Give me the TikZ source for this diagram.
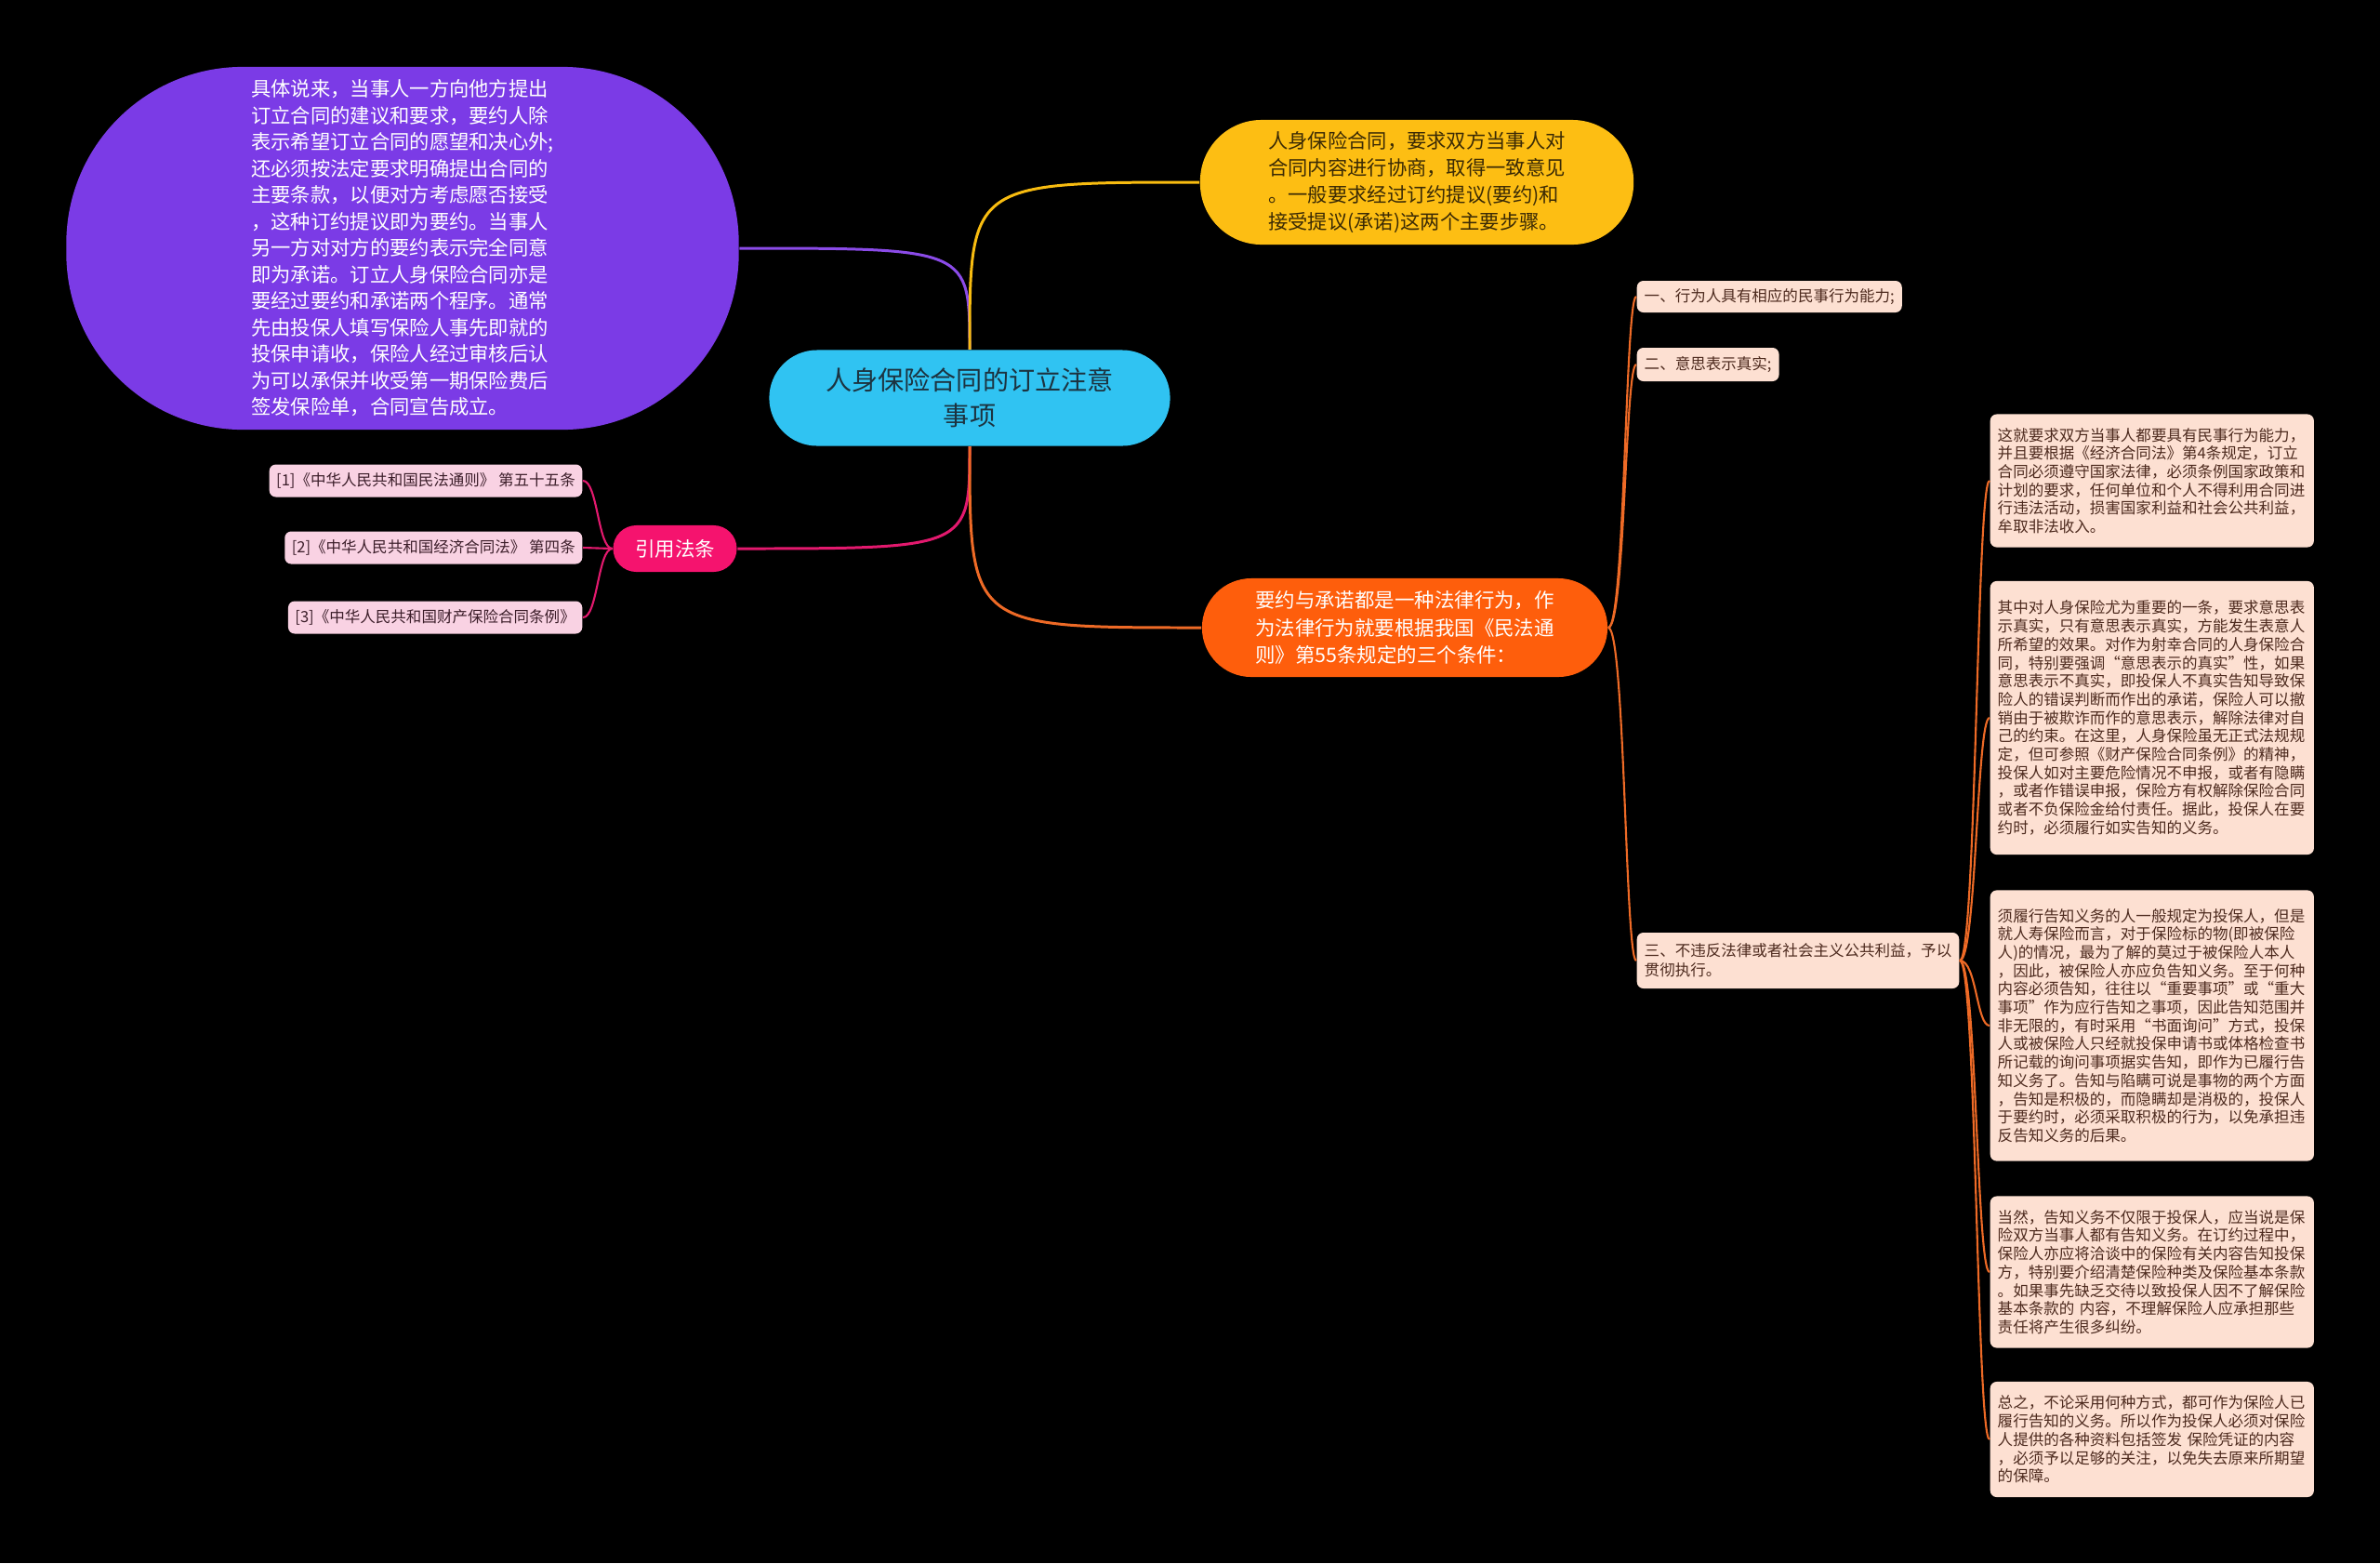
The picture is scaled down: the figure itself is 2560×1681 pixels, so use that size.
\documentclass[tikz,border=0pt]{standalone}
\usepackage{fontspec}
\setmainfont{Noto Sans CJK SC}
\definecolor{topicblue}{HTML}{30C3F2}
\definecolor{topictext}{HTML}{1C3340}
\definecolor{detailfill}{HTML}{7B3BE6}
\definecolor{stepsfill}{HTML}{FDBE13}
\definecolor{stepstext}{HTML}{3A2A05}
\definecolor{termsfill}{HTML}{FE5E0C}
\definecolor{lawsfill}{HTML}{F5136E}
\definecolor{lawfill}{HTML}{F9D2E3}
\definecolor{lawtext}{HTML}{3C1E2A}
\definecolor{notefill}{HTML}{FDE0D2}
\definecolor{notetext}{HTML}{4D2A1E}
\definecolor{purpleline}{HTML}{8B4BE8}
\definecolor{yellowline}{HTML}{F8BC10}
\definecolor{pinkline}{HTML}{E3196E}
\definecolor{orangeline}{HTML}{EE6A26}
\begin{document}
\begin{tikzpicture}[x=0.01cm,y=-0.01cm,
    bubble/.style={inner sep=0pt,align=center},
    note/.style={rounded corners=0.07cm,inner xsep=0.08cm,inner ysep=0.04cm,anchor=west,
        fill=notefill,text=notetext,font=\fontsize{4.7pt}{5.6pt}\selectfont},
    lawnote/.style={rounded corners=0.07cm,inner xsep=0.075cm,inner ysep=0.04cm,anchor=east,
        fill=lawfill,text=lawtext,minimum height=0.35cm,font=\fontsize{4.7pt}{6pt}\selectfont},
    branch/.style={line width=0.85pt},
    twig/.style={line width=0.6pt}]
    \fill[black] (0,0) rectangle (2560,1681);
    \useasboundingbox (0,0) rectangle (2560,1681);

    \node[bubble,fill=topicblue,text=topictext,rounded corners=0.515cm,minimum width=4.31cm,minimum height=1.03cm,
        font=\fontsize{8pt}{10.7pt}\selectfont] (centre) at (1043,428) {人身保险合同的订立注意\\事项};

    \node[bubble,fill=detailfill,text=white,rounded corners=1.9cm,minimum width=7.23cm,minimum height=3.9cm,
        align=left,font=\fontsize{6.06pt}{8.1pt}\selectfont] (detail) at (433,267)
        {具体说来，当事人一方向他方提出\\订立合同的建议和要求，要约人除\\表示希望订立合同的愿望和决心外;\\还必须按法定要求明确提出合同的\\主要条款，以便对方考虑愿否接受\\，这种订约提议即为要约。当事人\\另一方对对方的要约表示完全同意\\即为承诺。订立人身保险合同亦是\\要经过要约和承诺两个程序。通常\\先由投保人填写保险人事先即就的\\投保申请收，保险人经过审核后认\\为可以承保并收受第一期保险费后\\签发保险单，合同宣告成立。};

    \node[bubble,fill=stepsfill,text=stepstext,rounded corners=0.66cm,minimum width=4.66cm,minimum height=1.34cm,
        align=left,font=\fontsize{6.06pt}{8.2pt}\selectfont] (steps) at (1524,196)
        {人身保险合同，要求双方当事人对\\合同内容进行协商，取得一致意见\\。一般要求经过订约提议(要约)和\\接受提议(承诺)这两个主要步骤。};

    \node[bubble,fill=termsfill,text=white,rounded corners=0.53cm,minimum width=4.36cm,minimum height=1.06cm,
        align=left,font=\fontsize{6.1pt}{8.3pt}\selectfont] (terms) at (1511,675)
        {要约与承诺都是一种法律行为，作\\为法律行为就要根据我国《民法通\\则》第55条规定的三个条件：};

    \node[bubble,fill=lawsfill,text=white,rounded corners=0.25cm,minimum width=1.33cm,minimum height=0.5cm,
        font=\fontsize{6.1pt}{7pt}\selectfont] (laws) at (726,590) {引用法条};

    \node[lawnote] (law1) at (627,517) {[1]《中华人民共和国民法通则》 第五十五条};
    \node[lawnote] (law2) at (627,589) {[2]《中华人民共和国经济合同法》 第四条};
    \node[lawnote] (law3) at (627,664) {[3]《中华人民共和国财产保险合同条例》};

    \node[note,align=left,minimum height=0.34cm] (cond1) at (1760,319) {一、行为人具有相应的民事行为能力;};
    \node[note,align=left,minimum height=0.36cm] (cond2) at (1760,392) {二、意思表示真实;};
    \node[note,align=left,minimum height=0.6cm,font=\fontsize{4.7pt}{6pt}\selectfont] (cond3) at (1760,1033)
        {三、不违反法律或者社会主义公共利益，予以\\贯彻执行。};

    \node[note,text width=3.32cm,align=left,minimum height=1.43cm] (note1) at (2140,517)
        {这就要求双方当事人都要具有民事行为能力，\\并且要根据《经济合同法》第4条规定，订立\\合同必须遵守国家法律，必须条例国家政策和\\计划的要求，任何单位和个人不得利用合同进\\行违法活动，损害国家利益和社会公共利益，\\牟取非法收入。};
    \node[note,text width=3.32cm,align=left,minimum height=2.94cm] (note2) at (2140,772)
        {其中对人身保险尤为重要的一条，要求意思表\\示真实，只有意思表示真实，方能发生表意人\\所希望的效果。对作为射幸合同的人身保险合\\同，特别要强调“意思表示的真实”性，如果\\意思表示不真实，即投保人不真实告知导致保\\险人的错误判断而作出的承诺，保险人可以撤\\销由于被欺诈而作的意思表示，解除法律对自\\己的约束。在这里，人身保险虽无正式法规规\\定，但可参照《财产保险合同条例》的精神，\\投保人如对主要危险情况不申报，或者有隐瞒\\，或者作错误申报，保险方有权解除保险合同\\或者不负保险金给付责任。据此，投保人在要\\约时，必须履行如实告知的义务。};
    \node[note,text width=3.32cm,align=left,minimum height=2.91cm] (note3) at (2140,1103)
        {须履行告知义务的人一般规定为投保人，但是\\就人寿保险而言，对于保险标的物(即被保险\\人)的情况，最为了解的莫过于被保险人本人\\，因此，被保险人亦应负告知义务。至于何种\\内容必须告知，往往以“重要事项”或“重大\\事项”作为应行告知之事项，因此告知范围并\\非无限的，有时采用“书面询问”方式，投保\\人或被保险人只经就投保申请书或体格检查书\\所记载的询问事项据实告知，即作为已履行告\\知义务了。告知与陷瞒可说是事物的两个方面\\，告知是积极的，而隐瞒却是消极的，投保人\\于要约时，必须采取积极的行为，以免承担违\\反告知义务的后果。};
    \node[note,text width=3.32cm,align=left,minimum height=1.63cm] (note4) at (2140,1368)
        {当然，告知义务不仅限于投保人，应当说是保\\险双方当事人都有告知义务。在订约过程中，\\保险人亦应将洽谈中的保险有关内容告知投保\\方，特别要介绍清楚保险种类及保险基本条款\\。如果事先缺乏交待以致投保人因不了解保险\\基本条款的 内容，不理解保险人应承担那些\\责任将产生很多纠纷。};
    \node[note,text width=3.32cm,align=left,minimum height=1.24cm] (note5) at (2140,1548)
        {总之，不论采用何种方式，都可作为保险人已\\履行告知的义务。所以作为投保人必须对保险\\人提供的各种资料包括签发 保险凭证的内容\\，必须予以足够的关注，以免失去原来所期望\\的保障。};

    \draw[branch,purpleline] (centre.north) .. controls (centre.north |- detail.east) .. (detail.east);
    \draw[branch,yellowline] (centre.north) .. controls (centre.north |- steps.west) .. (steps.west);
    \draw[branch,pinkline] (centre.south) .. controls (centre.south |- laws.east) .. (laws.east);
    \draw[branch,orangeline] (centre.south) .. controls (centre.south |- terms.west) .. (terms.west);

    \coordinate (lawhub) at (643,590);
    \draw[twig,pinkline] (laws.west) .. controls (laws.west -| lawhub) and (law1.east -| lawhub) .. (law1.east);
    \draw[twig,pinkline] (laws.west) .. controls (laws.west -| lawhub) and (law2.east -| lawhub) .. (law2.east);
    \draw[twig,pinkline] (laws.west) .. controls (laws.west -| lawhub) and (law3.east -| lawhub) .. (law3.east);

    \coordinate (termhub) at (1748,675);
    \draw[twig,orangeline] (terms.east) .. controls (terms.east -| termhub) and (cond1.west -| termhub) .. (cond1.west);
    \draw[twig,orangeline] (terms.east) .. controls (terms.east -| termhub) and (cond2.west -| termhub) .. (cond2.west);
    \draw[twig,orangeline] (terms.east) .. controls (terms.east -| termhub) and (cond3.west -| termhub) .. (cond3.west);

    \coordinate (notehub) at (2126,1033);
    \draw[twig,orangeline] (cond3.east) .. controls (cond3.east -| notehub) and (note1.west -| notehub) .. (note1.west);
    \draw[twig,orangeline] (cond3.east) .. controls (cond3.east -| notehub) and (note2.west -| notehub) .. (note2.west);
    \draw[twig,orangeline] (cond3.east) .. controls (cond3.east -| notehub) and (note3.west -| notehub) .. (note3.west);
    \draw[twig,orangeline] (cond3.east) .. controls (cond3.east -| notehub) and (note4.west -| notehub) .. (note4.west);
    \draw[twig,orangeline] (cond3.east) .. controls (cond3.east -| notehub) and (note5.west -| notehub) .. (note5.west);
\end{tikzpicture}
\end{document}
